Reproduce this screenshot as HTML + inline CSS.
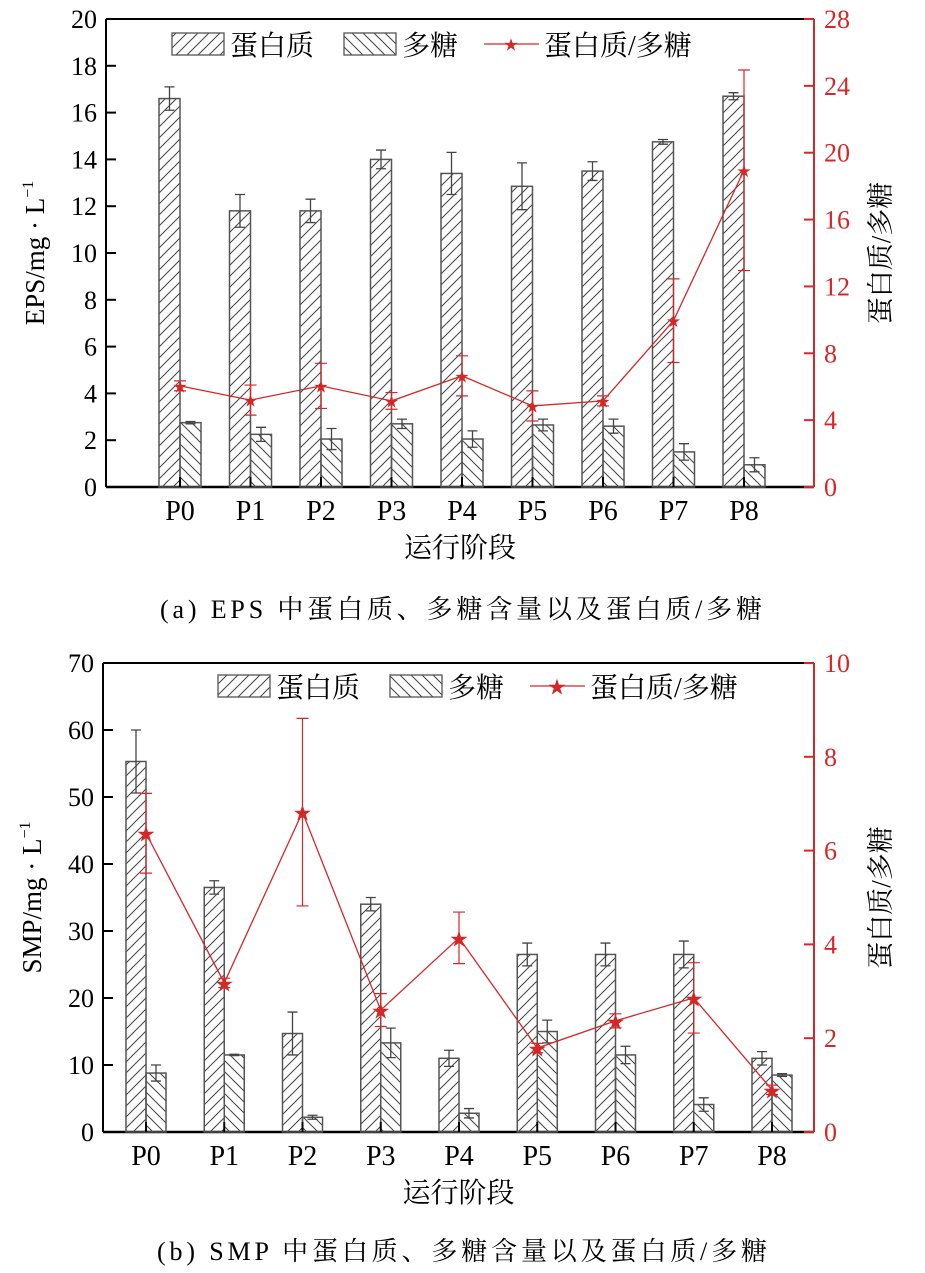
<!DOCTYPE html>
<html><head><meta charset="utf-8"><style>
body{margin:0;background:#fff;}
svg text{font-family:"Liberation Serif","Noto Serif CJK SC",serif;}
</style></head><body>
<svg id="s" width="925" height="1268" xmlns="http://www.w3.org/2000/svg">
<defs>
<pattern id="hp" patternUnits="userSpaceOnUse" width="11" height="11"><path d="M-1,12 L12,-1 M-6,6 L6,-6 M5,17 L17,5" stroke="#444" stroke-width="1"/></pattern>
<pattern id="hq" patternUnits="userSpaceOnUse" width="11" height="11"><path d="M-1,-1 L12,12 M-6,5 L6,17 M5,-6 L17,6" stroke="#444" stroke-width="1"/></pattern>
</defs>
</svg>
<script>
const cats=["P0","P1","P2","P3","P4","P5","P6","P7","P8"];
const aProt=[16.6,11.8,11.8,14.0,13.4,12.85,13.5,14.75,16.7];
const aProtErr=[0.5,0.7,0.5,0.4,0.9,1.0,0.4,0.1,0.15];
const aPoly=[2.75,2.25,2.05,2.7,2.05,2.65,2.6,1.5,0.95];
const aPolyErr=[0.05,0.3,0.45,0.2,0.35,0.25,0.3,0.35,0.3];
const aRatio=[6.05,5.2,6.05,5.15,6.65,4.85,5.15,9.95,18.95];
const aRatioErr=[0.3,0.9,1.35,0.5,1.2,0.9,0.3,2.5,6];
const aLeftTicks=[0,2,4,6,8,10,12,14,16,18,20];
const aRightTicks=[0,4,8,12,16,20,24,28];
const bProt=[55.3,36.5,14.7,34,11,26.5,26.5,26.5,11];
const bProtErr=[4.7,1,3.2,1,1.2,1.7,1.7,2,1];
const bPoly=[8.8,11.5,2.2,13.3,2.8,15,11.5,4.1,8.5];
const bPolyErr=[1.2,0.1,0.3,2.2,0.7,1.7,1.3,1,0.2];
const bRatio=[6.37,3.18,6.82,2.6,4.14,1.79,2.37,2.86,0.9];
const bRatioErr=[0.85,0.1,2,0.35,0.55,0.1,0.15,0.75,0.1];
const bLeftTicks=[0,10,20,30,40,50,60,70];
const bRightTicks=[0,2,4,6,8,10];

const S=document.getElementById('s');const NS="http://www.w3.org/2000/svg";
function el(t,a,txt){const e=document.createElementNS(NS,t);for(const k in a)e.setAttribute(k,a[k]);if(txt!==undefined)e.textContent=txt;S.appendChild(e);return e;}
const RED="#d62728";
const CJK='font-family:"Liberation Serif","Noto Serif CJK SC",serif';
function chart(c){
  const {L,R,T,B,lmax,rmax,x0,dx,bw,prot,protErr,poly,polyErr,ratio,ratioErr,lt,rt,ylab,cap,capY,capX,capW,lgX,lgY,pre,star}=c;
  const yl=v=>B-(B-T)*v/lmax, yr=v=>B-(B-T)*v/rmax, xc=i=>x0+dx*i;
  let e=el('line',{x1:L,y1:T,x2:R,y2:T,stroke:'#000','stroke-width':2});
  e=el('line',{x1:L,y1:T,x2:L,y2:B,stroke:'#000','stroke-width':2});
  e=el('line',{x1:L,y1:B,x2:R,y2:B,stroke:'#000','stroke-width':2.5});
  e=el('line',{x1:R,y1:T,x2:R,y2:B,stroke:RED,'stroke-width':2});
  lt.forEach(v=>{el('line',{x1:L,y1:yl(v),x2:L+10,y2:yl(v),stroke:'#000','stroke-width':2});
    e=el('text',{x:L-9,y:yl(v)+9,'text-anchor':'end','font-size':26},v);});
  rt.forEach(v=>{el('line',{x1:R-10,y1:yr(v),x2:R,y2:yr(v),stroke:RED,'stroke-width':2});
    e=el('text',{x:R+10,y:yr(v)+9,'font-size':26,fill:RED},v);});
  cats.forEach((cn,i)=>{
    const x=xc(i);
    e=el('rect',{x:x-bw,y:yl(prot[i]),width:bw,height:B-yl(prot[i]),fill:'url(#hp)',stroke:'#555','stroke-width':1.5});
    e=el('rect',{x:x,y:yl(poly[i]),width:bw,height:B-yl(poly[i]),fill:'url(#hq)',stroke:'#555','stroke-width':1.5});
    [[x-bw/2,prot[i],protErr[i]],[x+bw/2,poly[i],polyErr[i]]].forEach(([cx,v,er])=>{
      const a=yl(v+er),b=yl(v-er);
      e=el('path',{d:`M${cx},${a}V${b}M${cx-5},${a}H${cx+5}M${cx-5},${b}H${cx+5}`,stroke:'#444','stroke-width':1.3,fill:'none'});
    });
    el('line',{x1:x,y1:B,x2:x,y2:B-10,stroke:'#000','stroke-width':2});
    e=el('text',{x:x,y:B+33,'text-anchor':'middle','font-size':28},cn);
  });
  e=el('polyline',{points:ratio.map((v,i)=>xc(i)+','+yr(v)).join(' '),fill:'none',stroke:RED,'stroke-width':1.3});
  ratio.forEach((v,i)=>{const x=xc(i),a=yr(v+ratioErr[i]),b=yr(v-ratioErr[i]);
    e=el('path',{d:`M${x},${a}V${b}M${x-6},${a}H${x+6}M${x-6},${b}H${x+6}`,stroke:RED,'stroke-width':1.2,fill:'none'});
    e=el('text',{x:x,y:yr(v)+star/2.6,'text-anchor':'middle','font-size':star,fill:RED,style:'font-family:"DejaVu Sans",sans-serif'},'★');
  });
  e=el('rect',{x:lgX,y:lgY,width:52,height:22,fill:'url(#hp)',stroke:'#555','stroke-width':1.3});
  e=el('text',{x:lgX+58,y:lgY+22,'font-size':28,style:CJK},'蛋白质');
  e=el('rect',{x:lgX+172,y:lgY,width:52,height:22,fill:'url(#hq)',stroke:'#555','stroke-width':1.3});
  e=el('text',{x:lgX+230,y:lgY+22,'font-size':28,style:CJK},'多糖');
  el('line',{x1:lgX+312,y1:lgY+11,x2:lgX+367,y2:lgY+11,stroke:RED,'stroke-width':1.3});
  el('text',{x:lgX+339,y:lgY+11+star/2.6,'text-anchor':'middle','font-size':star,fill:RED,style:'font-family:"DejaVu Sans",sans-serif'},'★');
  e=el('text',{x:lgX+372,y:lgY+22,'font-size':28,style:CJK},'蛋白质/多糖');
  const my=(T+B)/2;
  e=el('text',{x:0,y:0,'font-size':27,'text-anchor':'middle',transform:`translate(${L-62},${my}) rotate(-90)`},'');
  e.innerHTML=ylab;
  e=el('text',{x:0,y:0,'font-size':27,'text-anchor':'middle',transform:`translate(${R+76},${my}) rotate(-90)`,style:CJK},'蛋白质/多糖');
  e=el('text',{x:(L+R)/2,y:B+70,'text-anchor':'middle','font-size':28,style:CJK},'运行阶段');
  e=el('text',{x:capX,y:capY,'font-size':26,textLength:capW,lengthAdjust:'spacing',style:CJK},cap);
}
chart({pre:'eps-',L:106,R:814,T:19,B:487,lmax:20,rmax:28,x0:180,dx:70.5,bw:21,prot:aProt,protErr:aProtErr,poly:aPoly,polyErr:aPolyErr,ratio:aRatio,ratioErr:aRatioErr,lt:aLeftTicks,rt:aRightTicks,ylab:'EPS/mg · L<tspan dy="-11" font-size="16">−1</tspan>',cap:'(a) EPS 中蛋白质、多糖含量以及蛋白质/多糖',capY:618,capX:160,capW:602,lgX:172,lgY:33,star:17});
chart({pre:'smp-',L:103,R:814,T:663,B:1132,lmax:70,rmax:10,x0:146,dx:78.25,bw:20,prot:bProt,protErr:bProtErr,poly:bPoly,polyErr:bPolyErr,ratio:bRatio,ratioErr:bRatioErr,lt:bLeftTicks,rt:bRightTicks,ylab:'SMP/mg · L<tspan dy="-11" font-size="16">−1</tspan>',cap:'(b) SMP 中蛋白质、多糖含量以及蛋白质/多糖',capY:1260,capX:157,capW:610,lgX:218,lgY:675,star:22});
</script>
</body></html>
